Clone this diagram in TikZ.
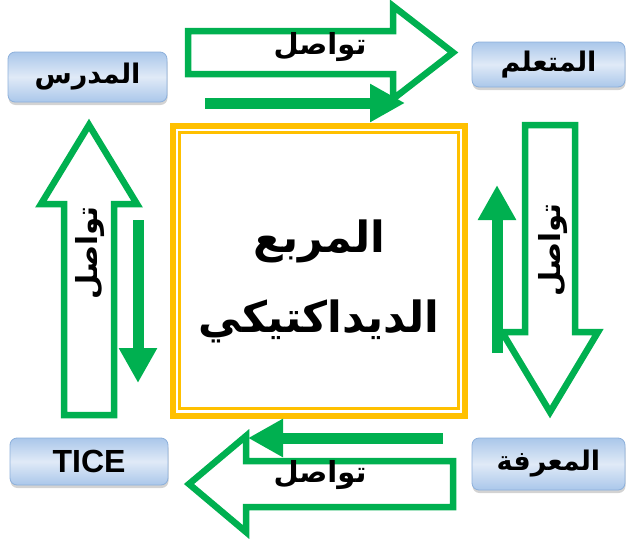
\documentclass[tikz,border=0pt]{standalone}
\usepackage{fontspec}
\setmainfont{Liberation Sans}
\newfontfamily\arabicfont[Script=Arabic]{DejaVu Sans}
\TeXXeTstate=1
\usetikzlibrary{arrows.meta, shadows}
\definecolor{lineGreen}{RGB}{0,176,80}
\definecolor{squareGold}{RGB}{255,192,0}
\definecolor{boxEdge}{RGB}{141,176,219}
\definecolor{boxDark}{RGB}{170,199,234}
\definecolor{boxLight}{RGB}{224,234,247}
\newcommand{\arabtext}[1]{{\arabicfont\bfseries\beginR #1\endR}}
\tikzset{
  rolebox/.style={rounded corners=7pt, draw=boxEdge, line width=0.8pt, top color=boxDark, bottom color=boxDark, middle color=boxLight, drop shadow={shadow xshift=0.5pt, shadow yshift=-3pt, opacity=0.35}, inner sep=0pt, font=\fontsize{27}{30}\selectfont},
  hollowarrow/.style={draw=lineGreen, fill=white, line width=6.5pt, line join=miter},
  thinarrow/.style={draw=lineGreen, line width=11pt, -{Triangle[length=35pt,width=36pt]}},
  linklabel/.style={font=\fontsize{29}{32}\selectfont, inner sep=0pt},
}

\begin{document}
\begin{tikzpicture}[x=1pt,y=-1pt]
\useasboundingbox (0,0) rectangle (626,538);
\node[draw=squareGold, line width=6pt, minimum width=292pt, minimum height=290pt] (square) at (319,270.5) {};
\node[draw=squareGold, line width=2.5pt, minimum width=279pt, minimum height=276pt] (frame) at (square) {};
\node[align=center, font=\fontsize{43}{80}\selectfont] (title) at ([yshift=-11pt]square.center) {\arabtext{المربع}\\\arabtext{الديداكتيكي}};
\node[rolebox, minimum width=159pt, minimum height=50pt] (teacher) at (87.5,77) {\arabtext{المدرس}};
\node[rolebox, minimum width=153pt, minimum height=45pt] (learner) at (548.5,64.5) {\arabtext{المتعلم}};
\node[rolebox, minimum width=158pt, minimum height=47pt, font=\fontsize{32}{36}\selectfont\bfseries] (tice) at (89,461.5) {TICE};
\node[rolebox, minimum width=153pt, minimum height=52pt] (knowledge) at (548.5,464) {\arabtext{المعرفة}};
\draw[hollowarrow] (188,31) -- (393,31) -- (393,6) -- (453,52.5) -- (393,99) -- (393,74) -- (188,74) -- cycle;
\draw[hollowarrow] (64,415) -- (64,204) -- (41,204) -- (89,125) -- (137,204) -- (114,204) -- (114,415) -- cycle;
\draw[hollowarrow] (525,125) -- (575,125) -- (575,332) -- (598,332) -- (550,412) -- (502,332) -- (525,332) -- cycle;
\draw[hollowarrow] (453,461) -- (246,461) -- (246,436) -- (189,484) -- (246,532) -- (246,507) -- (453,507) -- cycle;
\coordinate (topTail) at (205,103);
\coordinate (topTip) at (405,103);
\coordinate (leftTail) at (138,220);
\coordinate (leftTip) at (138,383);
\coordinate (rightTail) at (497,353);
\coordinate (rightTip) at (497,185);
\coordinate (bottomTail) at (443,438);
\coordinate (bottomTip) at (248,438);
\draw[thinarrow] (topTail) -- (topTip);
\draw[thinarrow] (leftTail) -- (leftTip);
\draw[thinarrow] (rightTail) -- (rightTip);
\draw[thinarrow] (bottomTail) -- (bottomTip);
\node[linklabel] (topLink) at (320,47) {\arabtext{تواصل}};
\node[linklabel, rotate=90] (leftLink) at (90,253) {\arabtext{تواصل}};
\node[linklabel, rotate=90] (rightLink) at (553,250) {\arabtext{تواصل}};
\node[linklabel] (bottomLink) at (320,475) {\arabtext{تواصل}};
\end{tikzpicture}
\end{document}
